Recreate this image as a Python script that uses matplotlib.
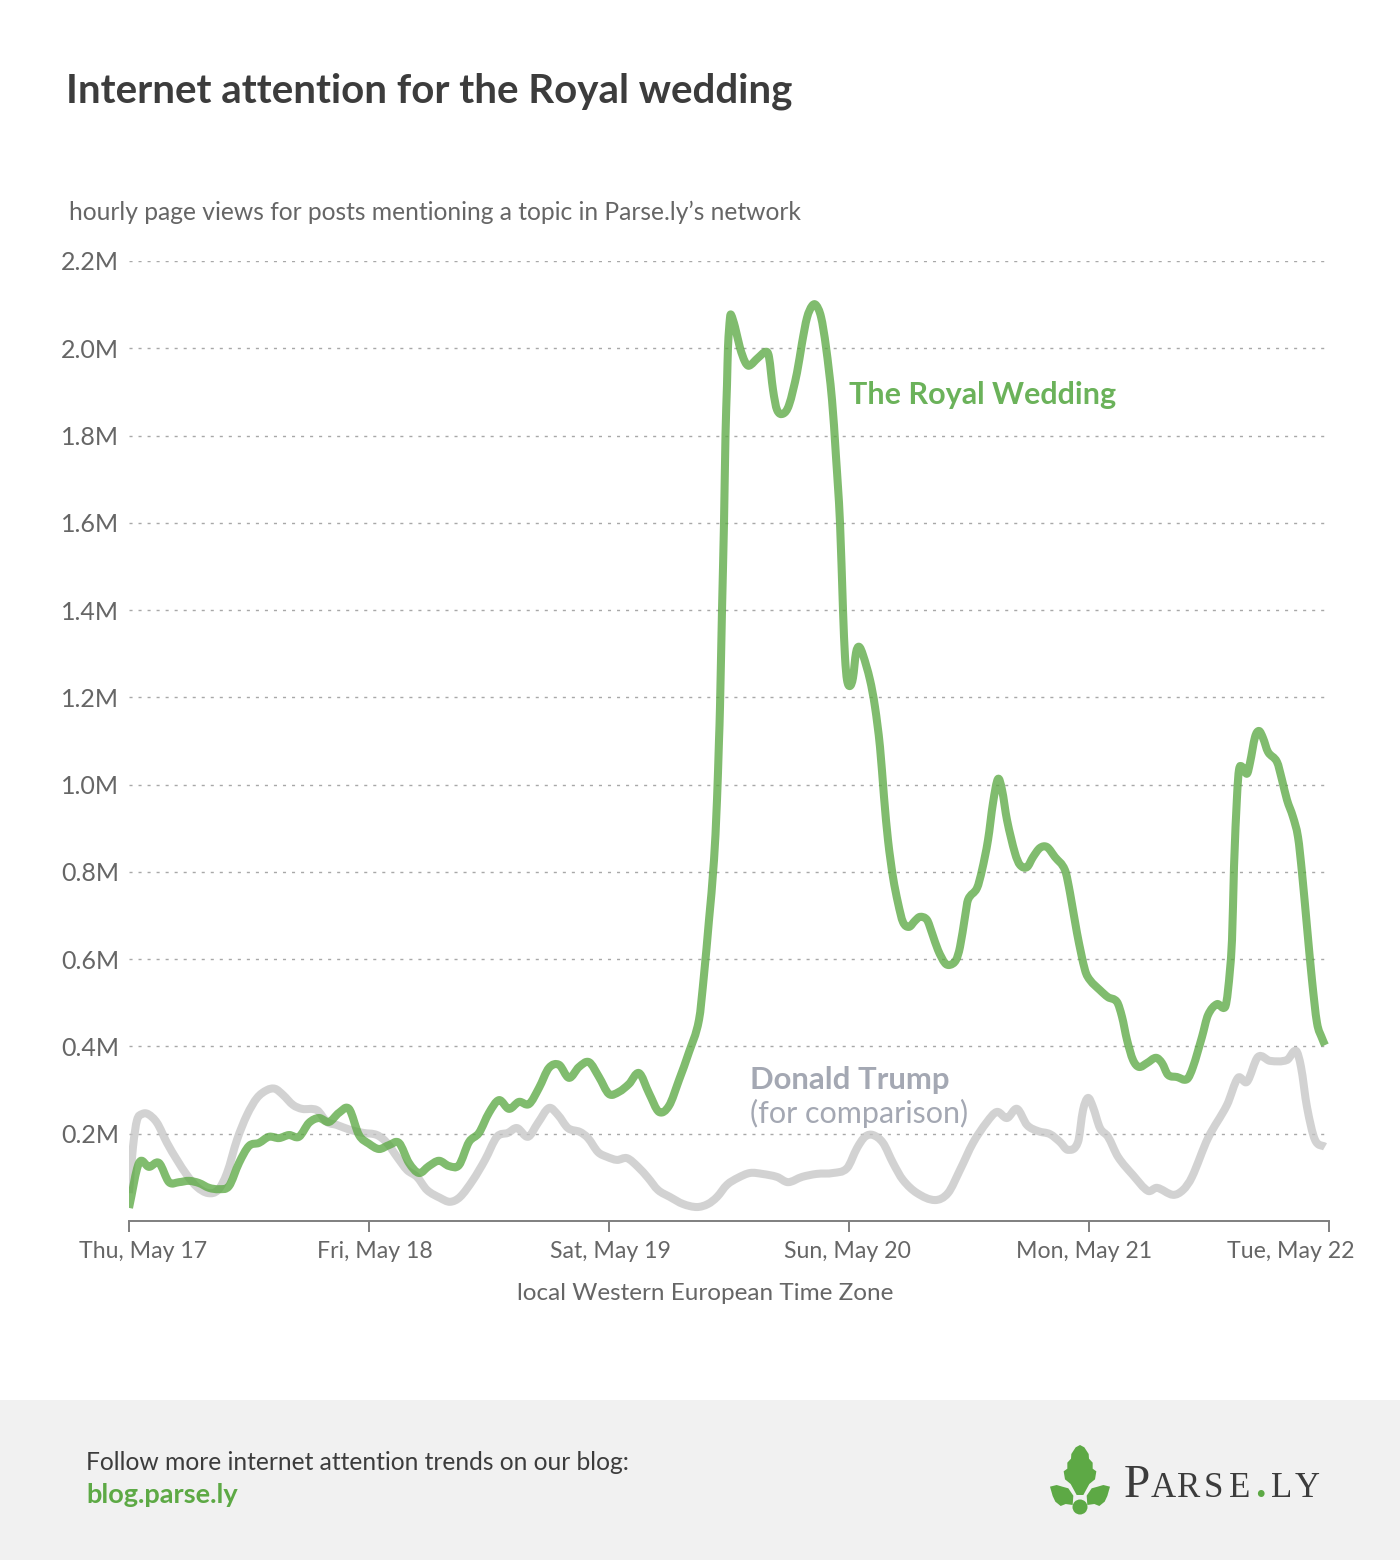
import matplotlib
matplotlib.use('Agg')
import matplotlib.pyplot as plt
from matplotlib.patches import Rectangle, Polygon, Circle, PathPatch
from matplotlib.path import Path
from matplotlib.transforms import IdentityTransform

plt.rcParams['font.family'] = ['Lato', 'DejaVu Sans']

W, H = 1400, 1560

# hours since Thu May 17 00:00, page views in millions
wedding_hours = list(range(0, 58)) + [
    57.5, 58.0, 58.5, 58.8, 59.0, 59.1, 59.3, 59.5, 59.65, 59.8, 59.9, 60.1, 60.2, 60.6, 61.1, 61.6,
    62.0, 62.9, 63.7, 64.0, 64.4, 64.8, 65.4, 66.0, 66.8, 67.3, 67.8, 68.3, 68.7, 69.2, 69.7, 70.3,
    70.7, 71.1, 71.4, 71.6, 71.8, 72.1, 72.4, 72.7, 73.0, 73.4, 74.1, 74.6, 75.1, 75.5, 75.9, 76.4,
    76.9, 77.4, 78.0, 78.6, 79.1, 79.8, 80.3, 80.9, 81.6, 82.1, 82.7, 83.1, 83.6, 83.9, 84.8, 85.3,
    85.9, 86.4, 86.9, 87.3, 87.8, 88.6, 89.1, 89.8, 90.4, 91.1, 91.8, 92.6, 93.6, 94.1, 94.8, 95.6,
    96.1, 97.1, 97.9, 98.8, 99.3, 99.8, 100.4, 101.0, 101.8, 102.7, 103.3, 103.9, 104.8, 105.8, 106.4,
    107.3, 107.9, 108.8, 109.6, 109.9, 110.3, 110.5, 110.8, 111.0, 111.3, 111.8, 112.1, 112.6, 113.0,
    113.4, 113.9, 114.8, 115.3, 115.8, 116.4, 116.9, 117.3, 117.8, 118.3, 118.8, 119.3, 119.6]
wedding_views = [
    0.030, 0.133, 0.124, 0.133, 0.089, 0.089, 0.092, 0.087, 0.076, 0.073, 0.080, 0.133, 0.172, 0.179,
    0.193, 0.190, 0.197, 0.193, 0.225, 0.236, 0.227, 0.248, 0.257, 0.197, 0.177, 0.165, 0.174, 0.179,
    0.133, 0.110, 0.126, 0.138, 0.126, 0.128, 0.181, 0.202, 0.248, 0.277, 0.257, 0.273, 0.268, 0.305,
    0.351, 0.358, 0.328, 0.353, 0.364, 0.330, 0.291, 0.296, 0.314, 0.339, 0.293, 0.250, 0.264, 0.323,
    0.387, 0.461,
    0.564, 0.690, 0.827, 0.965, 1.102, 1.178, 1.400, 1.600, 1.801, 1.916, 2.003, 2.070, 2.077, 2.049,
    2.001, 1.969, 1.960, 1.978, 1.992, 1.980, 1.905, 1.859, 1.850, 1.870, 1.944, 2.012, 2.070, 2.097,
    2.099, 2.072, 2.003, 1.882, 1.751, 1.600, 1.400, 1.293, 1.240, 1.226, 1.245, 1.302, 1.316, 1.297,
    1.240, 1.178, 1.086, 0.972, 0.873, 0.788, 0.729, 0.685, 0.674, 0.688, 0.697, 0.690, 0.660, 0.621,
    0.591, 0.587, 0.598, 0.628, 0.697, 0.736, 0.763, 0.804, 0.873, 0.958, 1.013, 0.988, 0.919, 0.843,
    0.816, 0.811, 0.834, 0.855, 0.857, 0.834, 0.804, 0.752, 0.660, 0.575, 0.552, 0.529, 0.513, 0.502,
    0.468, 0.415, 0.369, 0.353, 0.362, 0.374, 0.362, 0.335, 0.330, 0.325, 0.353, 0.422, 0.472, 0.497,
    0.490, 0.529, 0.644, 0.811, 0.972, 1.034, 1.041, 1.025, 1.050, 1.109, 1.123, 1.107, 1.075, 1.052,
    1.011, 0.965, 0.926, 0.880, 0.798, 0.674, 0.552, 0.454, 0.419, 0.403]

trump_hours = [
    0.0, 0.4, 0.8, 1.3, 1.9, 2.8, 3.8, 4.8, 5.8, 6.8, 7.9, 8.9, 9.8, 10.8, 11.8, 12.8, 13.8, 14.6, 15.4,
    16.4, 17.3, 18.8, 19.8, 20.8, 22.1, 23.4, 24.8, 25.8, 26.8, 27.8, 28.8, 29.8, 31.1, 32.1, 33.1, 34.4,
    35.6, 36.8, 37.9, 38.8, 39.9, 40.9, 42.0, 42.9, 43.9, 45.1, 45.9, 46.9, 47.8, 48.8, 49.8, 50.9, 51.9,
    52.9, 54.1, 55.4, 56.8, 57.9, 58.8, 59.8, 60.9, 62.1, 63.3, 64.8, 65.9, 67.3, 68.8, 70.4, 71.8, 72.8,
    73.6, 74.4, 75.4, 76.4, 77.4, 78.8, 80.6, 81.9, 83.1, 84.4, 85.8, 86.8, 87.8, 88.8, 89.8, 90.9, 92.1,
    93.1, 93.9, 94.9, 95.4, 95.9, 96.4, 97.1, 97.9, 98.9, 100.4, 101.9, 102.8, 104.4, 105.4, 106.3, 107.9,
    109.8, 110.9, 111.8, 112.9, 114.1, 115.8, 116.7, 117.2, 117.8, 118.6, 119.6]
trump_views = [
    0.064, 0.170, 0.231, 0.245, 0.245, 0.225, 0.179, 0.140, 0.105, 0.078, 0.064, 0.071, 0.110, 0.186,
    0.243, 0.282, 0.300, 0.303, 0.289, 0.266, 0.257, 0.254, 0.227, 0.220, 0.209, 0.202, 0.197, 0.179,
    0.147, 0.117, 0.101, 0.071, 0.053, 0.044, 0.055, 0.094, 0.140, 0.193, 0.202, 0.213, 0.193, 0.225,
    0.259, 0.243, 0.213, 0.204, 0.190, 0.158, 0.147, 0.140, 0.144, 0.124, 0.099, 0.071, 0.055, 0.039,
    0.032, 0.039, 0.055, 0.083, 0.099, 0.110, 0.108, 0.101, 0.089, 0.101, 0.108, 0.110, 0.121, 0.167,
    0.193, 0.197, 0.179, 0.133, 0.094, 0.064, 0.048, 0.064, 0.117, 0.179, 0.227, 0.250, 0.236, 0.257,
    0.220, 0.206, 0.199, 0.181, 0.163, 0.181, 0.254, 0.282, 0.261, 0.213, 0.193, 0.147, 0.105, 0.069,
    0.076, 0.060, 0.071, 0.101, 0.190, 0.266, 0.328, 0.319, 0.376, 0.367, 0.369, 0.390, 0.353, 0.261,
    0.186, 0.170]

y_ticks = [0.2, 0.4, 0.6, 0.8, 1.0, 1.2, 1.4, 1.6, 1.8, 2.0, 2.2]
x_ticks = [0, 24, 48, 72, 96, 120]
day_labels = ['Thu, May 17', 'Fri, May 18', 'Sat, May 19', 'Sun, May 20', 'Mon, May 21', 'Tue, May 22']
day_label_px = [143, 375, 610, 847, 1084, 1291]

GREEN = '#5da945'
TEXT = '#666666'
DARK = '#3c3c3c'


def label(x, y, s, **kw):
    # place text by pixel position on the 1400x1560 canvas
    kw.setdefault('va', 'center')
    fig.text(x / W, 1 - y / H, s, **kw)


def smooth_line(ax, xs, ys, **kw):
    # the reference line is a smooth curve, so join the points with cubic segments
    slopes = []
    for i in range(len(xs)):
        a, b = max(i - 1, 0), min(i + 1, len(xs) - 1)
        slopes.append((ys[b] - ys[a]) / (xs[b] - xs[a]))
    verts = [(xs[0], ys[0])]
    codes = [Path.MOVETO]
    for i in range(len(xs) - 1):
        d = (xs[i + 1] - xs[i]) / 3
        verts += [(xs[i] + d, ys[i] + slopes[i] * d),
                  (xs[i + 1] - d, ys[i + 1] - slopes[i + 1] * d),
                  (xs[i + 1], ys[i + 1])]
        codes += [Path.CURVE4] * 3
    ax.add_patch(PathPatch(Path(verts, codes), fill=False, capstyle='butt', joinstyle='round', **kw))


fig = plt.figure(figsize=(14, 15.6), dpi=100, facecolor='white')
fig.add_artist(Rectangle((0, 0), 1, 160 / H, transform=fig.transFigure, color='#f1f1f1', lw=0))

ax = fig.add_axes([129 / W, (H - 1221) / H, 1200 / W, 960 / H])
ax.set_xlim(0, 120)
ax.set_ylim(0, 2.2)
for side in ['top', 'right', 'left']:
    ax.spines[side].set_visible(False)
ax.spines['bottom'].set_color('#7f7f7f')
ax.spines['bottom'].set_linewidth(1.4)

ax.set_yticks(y_ticks)
ax.set_yticklabels(['%.1fM' % v for v in y_ticks], fontsize=18, color=TEXT, va='center_baseline')
ax.tick_params(axis='y', length=0, pad=7)
ax.set_xticks(x_ticks)
ax.set_xticklabels([])
ax.tick_params(axis='x', length=8, width=1.4, color='#7f7f7f')
ax.grid(axis='y', color='#a8a8a8', linewidth=1.0, linestyle=(0, (2.2, 4.3)))
ax.set_axisbelow(True)

smooth_line(ax, trump_hours, trump_views, edgecolor='#c4c4c4', alpha=0.75, linewidth=5.8)
smooth_line(ax, wedding_hours, wedding_views, edgecolor=GREEN, alpha=0.78, linewidth=5.8)

label(66, 91, 'Internet attention for the Royal wedding', fontsize=29, fontweight='bold', color=DARK)
label(69, 212, 'hourly page views for posts mentioning a topic in Parse.ly\u2019s network', fontsize=17.7, color=TEXT)
for px, s in zip(day_label_px, day_labels):
    label(px, 1252, s, fontsize=16.7, color=TEXT, ha='center')
label(705, 1294, 'local Western European Time Zone', fontsize=17.5, color=TEXT, ha='center')

label(849, 395, 'The Royal Wedding', fontsize=22, fontweight='bold', color='#6bb25a')
label(750, 1080, 'Donald Trump', fontsize=22.4, fontweight='bold', color='#a4a8b3')
label(750, 1113, '(for comparison)', fontsize=22, color='#a4a8b3')

label(86, 1462, 'Follow more internet attention trends on our blog:', fontsize=17.7, color=DARK)
label(86, 1495, 'blog.parse.ly', fontsize=19.5, fontweight='bold', color=GREEN)

# logo, outline in pixels
leaf_mid = [(150, 45), (163, 52), (176, 72), (177, 86), (188, 98), (188, 116), (199, 124), (195, 148),
            (178, 162), (160, 195), (140, 195), (122, 162), (105, 148), (101, 124), (112, 116), (112, 98),
            (123, 86), (124, 72), (137, 52)]
leaf_left = [(60, 170), (80, 165), (97, 170), (115, 175), (130, 197), (128, 225), (107, 222), (92, 228),
             (76, 215), (68, 198)]
leaf_right = [(300 - x, y) for x, y in leaf_left]
for leaf in [leaf_mid, leaf_left, leaf_right]:
    pts = [((1030 + x / 3) / W, 1 - (1430 + y / 3) / H) for x, y in leaf]
    fig.add_artist(Polygon(pts, closed=True, transform=fig.transFigure, color=GREEN, lw=0))
fig.add_artist(Circle((1080, H - 1507), 7.5, transform=IdentityTransform(), color=GREEN, lw=0))

logo_letters = ['A', 'R', 'S', 'E', 'L', 'Y']
logo_px = [1163, 1189, 1213, 1240, 1282, 1307]
label(1124, 1497, 'P', fontsize=34, family='Liberation Serif', color=DARK, va='baseline')
for px, s in zip(logo_px, logo_letters):
    label(px, 1497, s, fontsize=25, family='Liberation Serif', color=DARK, ha='center', va='baseline')
label(1260, 1497, '.', fontsize=30, family='Liberation Serif', fontweight='bold', color=GREEN, ha='center', va='baseline')

fig.savefig('out.png', dpi=100)
